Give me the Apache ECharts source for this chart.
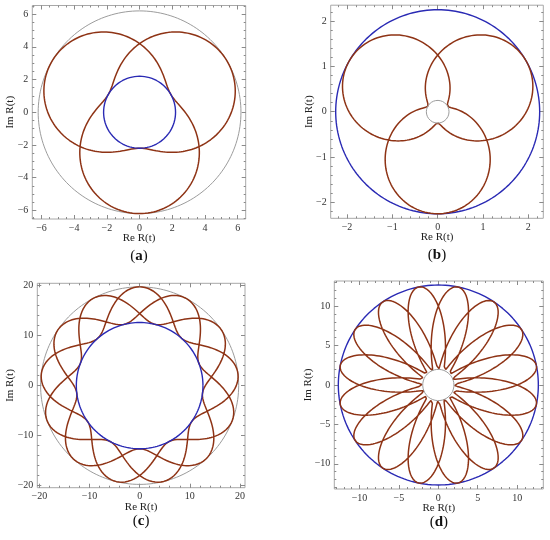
<!DOCTYPE html>
<html>
<head>
<meta charset="utf-8">
<script src="https://cdn.jsdelivr.net/npm/echarts@6.0.0/dist/echarts.min.js"></script>
<style>
  html, body { margin: 0; padding: 0; background: #fff; }
  #chart { width: 550px; height: 540px; }
</style>
</head>
<body>
<div id="chart"></div>
<script>
// values, one entry per panel (a)..(d)
const panelNames = ["a", "b", "c", "d"];
// R(s) = exp(i*(turns/lobes)*s + i*phase) * (offset + cosAmp*cos s)
const offsetTerm = [4.2, 1.25, 16.18, 7.335];
const cosAmp = [2.0, 1.0, 3.56, 5.355];
const lobeCount = [3, 3, 13, 16];
const frameTurns = [2, 2, 3, 3];
const phaseDeg = [270, 270, 90, 11.25];
// bounding circles
const outerRadius = [6.2, 2.25, 19.74, 12.69];
const innerRadius = [2.2, 0.25, 12.62, 1.98];
// tick labels
const majorTicks = [
  [-6, -4, -2, 0, 2, 4, 6],
  [-2, -1, 0, 1, 2],
  [-20, -10, 0, 10, 20],
  [-10, -5, 0, 5, 10]
];
const minorStep = [0.5, 0.2, 2, 1];
const xRange = [[-6.56, 6.49], [-2.36, 2.33], [-20.4, 21.0], [-13.2, 13.32]];
const yRange = [[-6.53, 6.53], [-2.35, 2.35], [-20.4, 20.45], [-13.2, 13.2]];

// layout (pixels)
const gridBox = [
  [32.3, 5.5, 213.4, 213.5],
  [330.7, 5.2, 212.6, 213.1],
  [37.3, 283.3, 207.7, 204.4],
  [334.3, 281, 209, 208]
];
const yNameGap = [22, 22, 27, 26];
const captionGap = [37, 37, 33, 33];
const RED = "#8e3315";
const BLUE = "#2a2ab4";
const GRAY = "#9c9c9c";
const outerColor = [GRAY, BLUE, GRAY, BLUE];
const innerColor = [BLUE, GRAY, BLUE, GRAY];
const FONT = '"Liberation Serif", "DejaVu Serif", serif';

const curvePoints = i => {
  const pts = [];
  const n = 300 * lobeCount[i];
  const sMax = 2 * Math.PI * lobeCount[i];
  const rho = frameTurns[i] / lobeCount[i];
  const ph = (phaseDeg[i] * Math.PI) / 180;
  for (let k = 0; k <= n; k++) {
    const s = (sMax * k) / n;
    const r = offsetTerm[i] + cosAmp[i] * Math.cos(s);
    const a = rho * s + ph;
    pts.push([r * Math.cos(a), r * Math.sin(a)]);
  }
  return pts;
};

const circlePoints = r => {
  const pts = [];
  for (let k = 0; k <= 360; k++) {
    const a = (k * Math.PI) / 180;
    pts.push([r * Math.cos(a), r * Math.sin(a)]);
  }
  return pts;
};

const minorTicks = (range, step) => {
  const out = [];
  const start = Math.ceil(range[0] / step);
  const end = Math.floor(range[1] / step);
  for (let k = start; k <= end; k++) out.push(+(k * step).toFixed(4));
  return out;
};

const fmt = v => (v < 0 ? "\u2212" + Math.abs(v) : String(v));

const makeAxis = (i, range, pos, ticks, len, withLabels) => ({
  type: "value",
  gridIndex: i,
  position: pos,
  min: range[0],
  max: range[1],
  axisLine: { show: false, onZero: false },
  splitLine: { show: false },
  axisTick: {
    show: true,
    inside: true,
    length: len,
    customValues: ticks,
    lineStyle: { color: "#8a8a8a", width: 1 }
  },
  axisLabel: withLabels
    ? {
        show: true,
        customValues: ticks,
        formatter: fmt,
        margin: 4,
        fontSize: 10,
        fontFamily: FONT,
        color: "#333"
      }
    : { show: false }
});

const grids = [];
const xAxes = [];
const yAxes = [];
const series = [];
const graphics = [];

panelNames.forEach((name, i) => {
  const [left, top, width, height] = gridBox[i];
  grids.push({
    left, top, width, height,
    show: true,
    borderColor: "#a8a8a8",
    borderWidth: 1,
    backgroundColor: "transparent"
  });

  const xMin = minorTicks(xRange[i], minorStep[i]);
  const yMin = minorTicks(yRange[i], minorStep[i]);
  const xBase = xAxes.length;
  const yBase = yAxes.length;
  xAxes.push(makeAxis(i, xRange[i], "bottom", majorTicks[i], 4, true));
  xAxes.push(makeAxis(i, xRange[i], "bottom", xMin, 2, false));
  xAxes.push(makeAxis(i, xRange[i], "top", majorTicks[i], 4, false));
  xAxes.push(makeAxis(i, xRange[i], "top", xMin, 2, false));
  yAxes.push(makeAxis(i, yRange[i], "left", majorTicks[i], 4, true));
  yAxes.push(makeAxis(i, yRange[i], "left", yMin, 2, false));
  yAxes.push(makeAxis(i, yRange[i], "right", majorTicks[i], 4, false));
  yAxes.push(makeAxis(i, yRange[i], "right", yMin, 2, false));

  const common = {
    type: "line",
    xAxisIndex: xBase,
    yAxisIndex: yBase,
    showSymbol: false,
    symbol: "none",
    smooth: false,
    silent: true,
    animation: false
  };
  series.push({
    ...common,
    name: name + "-outer",
    data: circlePoints(outerRadius[i]),
    lineStyle: { color: outerColor[i], width: outerColor[i] === GRAY ? 1 : 1.4 }
  });
  series.push({
    ...common,
    name: name + "-curve",
    data: curvePoints(i),
    lineStyle: { color: RED, width: 1.5 }
  });
  series.push({
    ...common,
    name: name + "-inner",
    data: circlePoints(innerRadius[i]),
    lineStyle: { color: innerColor[i], width: innerColor[i] === GRAY ? 1 : 1.4 }
  });

  const cx = left + width / 2;
  const cy = top + height / 2;
  const bottom = top + height;
  graphics.push({
    type: "text",
    x: cx,
    y: bottom + 19,
    style: {
      text: "Re R(t)",
      font: "11px " + FONT,
      fill: "#222",
      align: "center",
      verticalAlign: "middle"
    }
  });
  graphics.push({
    type: "text",
    x: left - yNameGap[i],
    y: cy,
    rotation: Math.PI / 2,
    style: {
      text: "Im R(t)",
      font: "11px " + FONT,
      fill: "#222",
      align: "center",
      verticalAlign: "middle"
    }
  });
  graphics.push({
    type: "text",
    x: cx,
    y: bottom + captionGap[i],
    style: {
      text: "{p|(}{b|" + name + "}{p|)}",
      align: "center",
      verticalAlign: "middle",
      rich: {
        p: { font: "15px " + FONT, fill: "#111" },
        b: { font: "bold 15px " + FONT, fill: "#111" }
      }
    }
  });
});

const chart = echarts.init(document.getElementById("chart"), null, { renderer: "canvas" });
chart.setOption({
  animation: false,
  backgroundColor: "#ffffff",
  grid: grids,
  xAxis: xAxes,
  yAxis: yAxes,
  series: series,
  graphic: graphics
});
</script>
</body>
</html>
